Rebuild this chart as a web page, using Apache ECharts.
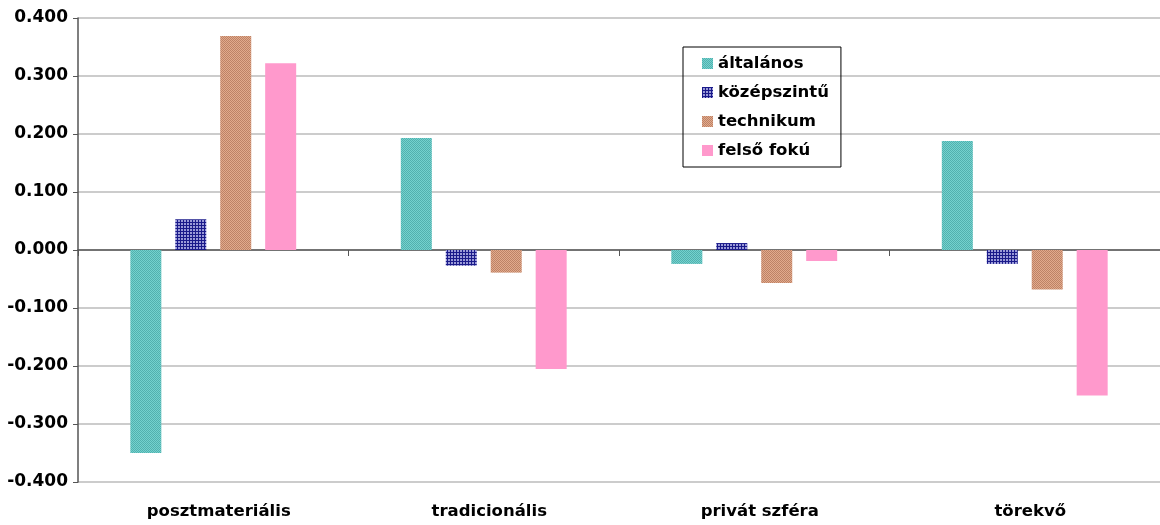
<!DOCTYPE html>
<html>
<head>
<meta charset="utf-8">
<script src="https://cdn.jsdelivr.net/npm/echarts@6/dist/echarts.min.js"></script>
<style>
  html, body { margin: 0; padding: 0; background: #fff; }
  #chart { width: 1160px; height: 525px; }
</style>
</head>
<body>
<div id="chart"></div>
<script>
const categories = ['posztmateriális', 'tradicionális', 'privát szféra', 'törekvő'];
const seriesNames = ['általános', 'középszintű', 'technikum', 'felső fokú'];
const altalanos = [-0.350, 0.193, -0.024, 0.188];
const kozepszintu = [0.053, -0.027, 0.012, -0.024];
const technikum = [0.369, -0.039, -0.057, -0.068];
const felsoFoku = [0.322, -0.205, -0.019, -0.251];

// small bitmap patterns to mimic the textured fills
const makePattern = (size, draw) => {
  const c = document.createElement('canvas');
  c.width = size;
  c.height = size;
  draw(c.getContext('2d'));
  return { image: c, repeat: 'repeat' };
};

const tealFill = makePattern(2, ctx => {
  ctx.fillStyle = '#74d2ce';
  ctx.fillRect(0, 0, 2, 2);
  ctx.fillStyle = '#52b0ae';
  ctx.fillRect(0, 0, 1, 1);
  ctx.fillRect(1, 1, 1, 1);
});

const blueFill = makePattern(3, ctx => {
  ctx.fillStyle = '#9a9ad8';
  ctx.fillRect(0, 0, 3, 3);
  ctx.fillStyle = '#1a1a8a';
  ctx.fillRect(0, 0, 3, 1);
  ctx.fillRect(0, 0, 1, 3);
});

const brownFill = makePattern(2, ctx => {
  ctx.fillStyle = '#e2aa8c';
  ctx.fillRect(0, 0, 2, 2);
  ctx.fillStyle = '#bd8266';
  ctx.fillRect(0, 0, 1, 1);
  ctx.fillRect(1, 1, 1, 1);
});

const fills = [tealFill, blueFill, brownFill, '#ff99cc'];
const values = [altalanos, kozepszintu, technikum, felsoFoku];

const chart = echarts.init(document.getElementById('chart'));

const series = seriesNames.map((name, i) => ({
  name,
  type: 'bar',
  xAxisIndex: 0,
  data: values[i],
  barWidth: 31,
  barGap: '45%',
  itemStyle: { color: fills[i] },
  emphasis: { disabled: true }
}));

chart.setOption({
  animation: false,
  backgroundColor: '#fff',
  textStyle: { fontFamily: 'DejaVu Sans' },
  grid: { left: 78, right: 0, top: 18, bottom: 43 },
  legend: {
    orient: 'vertical',
    left: 683,
    top: 47,
    padding: [8, 12, 8, 19],
    itemGap: 12,
    itemWidth: 11,
    itemHeight: 11,
    icon: 'rect',
    borderColor: '#000',
    borderWidth: 1,
    textStyle: { fontSize: 16.5, fontWeight: 'bold', color: '#000' },
    data: seriesNames
  },
  xAxis: [
    {
      type: 'category',
      data: categories,
      axisLine: { onZero: true, lineStyle: { color: '#555', width: 1.5 } },
      axisTick: { show: true, length: 6, lineStyle: { color: '#555' } },
      axisLabel: { show: false },
      splitLine: { show: false }
    },
    {
      type: 'category',
      data: categories,
      position: 'bottom',
      axisLine: { show: false },
      axisTick: { show: false },
      axisLabel: {
        fontSize: 16.5,
        fontWeight: 'bold',
        color: '#000',
        margin: 21,
        padding: [0, 0, 0, 11]
      }
    }
  ],
  yAxis: {
    type: 'value',
    min: -0.4,
    max: 0.4,
    interval: 0.1,
    axisLine: { show: true, lineStyle: { color: '#555', width: 1.5 } },
    axisTick: { show: true, length: 5, lineStyle: { color: '#555' } },
    axisLabel: {
      fontSize: 17,
      fontWeight: 'bold',
      color: '#000',
      margin: 10,
      formatter: v => v.toFixed(3)
    },
    splitLine: { lineStyle: { color: '#bbbbbb', width: 1.5 } }
  },
  series
});
</script>
</body>
</html>
